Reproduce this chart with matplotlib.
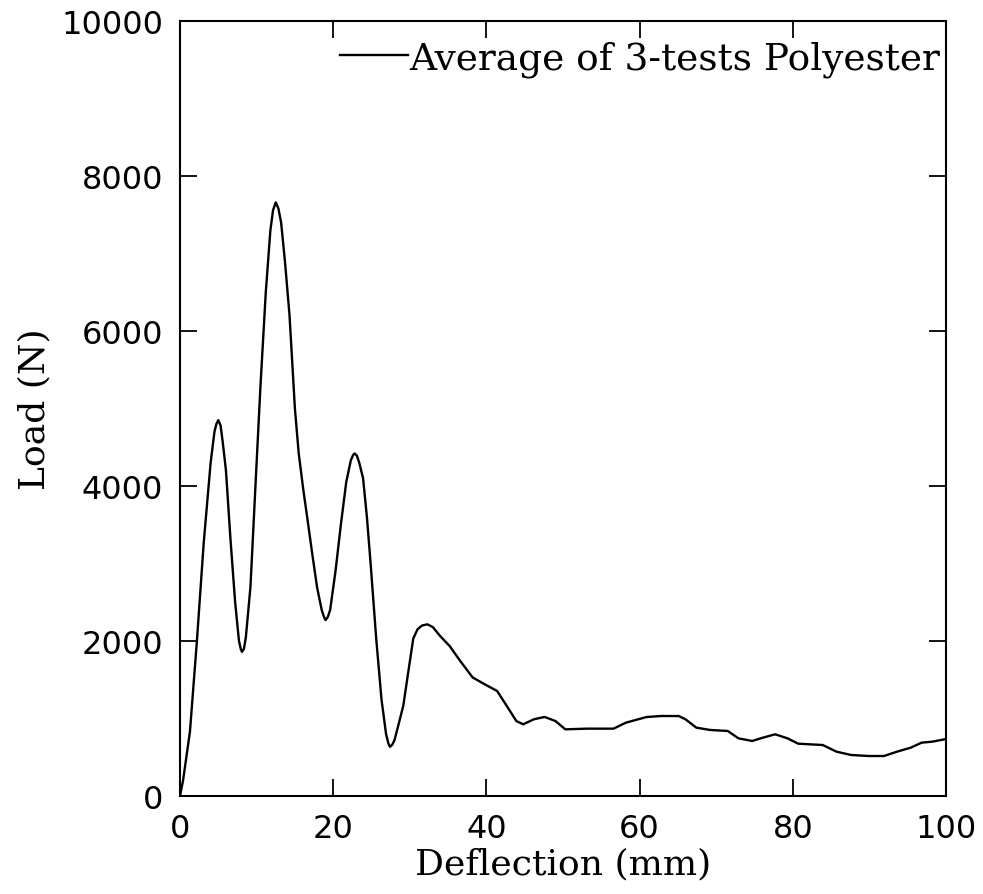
import matplotlib
matplotlib.use("Agg")
import matplotlib.pyplot as plt

# Load-deflection curve
deflection = [0.0, 0.4, 1.3, 2.2, 3.1, 4.0, 4.5, 4.75, 5.0, 5.3, 5.6, 6.0, 6.6, 7.2, 7.7,
              7.95, 8.1, 8.35, 8.6, 9.2, 9.8, 10.5, 11.2, 11.8, 12.15, 12.5, 12.85,
              13.2, 13.7, 14.3, 15.0, 15.5, 16.1, 16.6, 17.3, 17.9, 18.5, 18.8, 19.0,
              19.3, 19.6, 20.3, 21.0, 21.7, 22.3, 22.6, 22.8, 23.1, 23.4, 23.9, 24.4,
              24.9, 25.6, 26.3, 26.9, 27.2, 27.4, 27.7, 28.0, 28.6, 29.15, 29.8,
              30.45, 31.0, 31.6, 32.3, 33.0, 34.0, 35.2, 36.6, 38.2, 39.8, 41.4, 42.8,
              43.9, 44.8, 46.2, 47.6, 49.0, 50.3, 53.1, 56.6, 58.2, 60.9, 62.8, 65.1,
              66.0, 67.4, 69.2, 71.5, 72.9, 74.7, 76.1, 77.7, 79.3, 80.7, 83.9, 85.7,
              87.6, 89.9, 91.9, 93.6, 95.4, 96.8, 98.2, 100.0]
load = [0, 200, 830, 1990, 3270, 4300, 4700, 4800, 4850, 4780, 4550, 4200, 3300, 2500, 2000,
        1890, 1860, 1900, 2050, 2700, 3900, 5280, 6500, 7300, 7560, 7660, 7580,
        7400, 6900, 6200, 5000, 4420, 3950, 3600, 3100, 2690, 2400, 2310, 2270,
        2310, 2400, 2900, 3500, 4050, 4330, 4400, 4420, 4390, 4300, 4100, 3600,
        2980, 2050, 1250, 800, 680, 635, 660, 720, 950, 1165, 1600,
        2030, 2150, 2200, 2215, 2180, 2060, 1935, 1740, 1530, 1440, 1355, 1140,
        968, 925, 990, 1020, 968, 860, 869, 869, 946, 1019, 1032, 1032,
        989, 882, 852, 839, 744, 710, 753, 796, 744, 675, 658, 572,
        529, 516, 516, 572, 624, 688, 701, 735]

x_ticks = [0, 20, 40, 60, 80, 100]
y_ticks = [0, 2000, 4000, 6000, 8000, 10000]

serif = "DejaVu Serif"

fig = plt.figure(figsize=(9.83, 8.95), dpi=100)
ax = fig.add_axes([0.1831, 0.1095, 0.7793, 0.8659])

ax.plot(deflection, load, color="black", linewidth=1.7,
        label="Average of 3-tests Polyester")

ax.set_xlim(0, 100)
ax.set_ylim(0, 10000)
ax.set_xticks(x_ticks)
ax.set_yticks(y_ticks)
ax.tick_params(direction="in", length=12, width=1.3, pad=12, labelsize=23,
               top=True, right=True)
for lab in ax.get_xticklabels() + ax.get_yticklabels():
    lab.set_family("DejaVu Sans")
for s in ax.spines.values():
    s.set_linewidth(1.5)

ax.set_xlabel("Deflection (mm)", family=serif, fontsize=26, labelpad=2)
ax.set_ylabel("Load (N)", family=serif, fontsize=26, labelpad=7)

ax.legend(loc="upper right", bbox_to_anchor=(1.0, 0.982), frameon=False,
          prop={"family": serif, "size": 27},
          handlelength=1.8, handletextpad=0.05, borderaxespad=0.0,
          borderpad=0.15)

fig.savefig("out.png", dpi=100)
